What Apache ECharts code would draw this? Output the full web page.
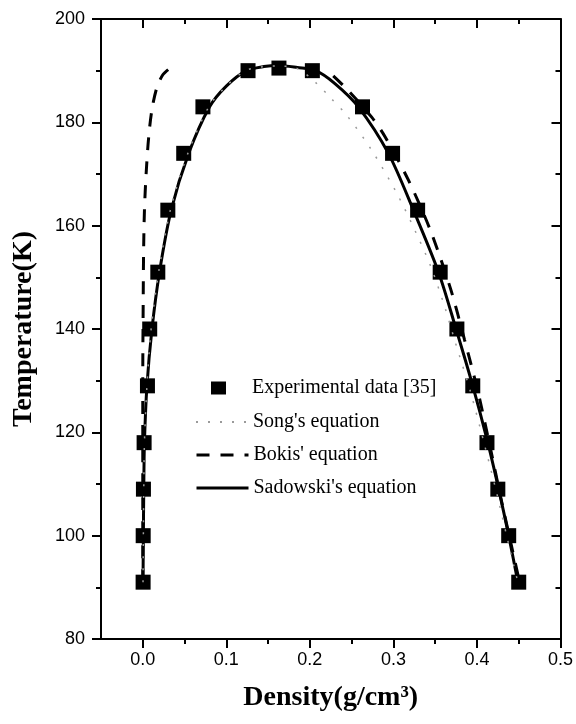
<!DOCTYPE html>
<html>
<head>
<meta charset="utf-8">
<script src="https://cdn.jsdelivr.net/npm/echarts@6/dist/echarts.min.js"></script>
<style>
  html, body { margin: 0; padding: 0; background: #fff; }
  #chart { width: 576px; height: 724px; }
</style>
</head>
<body>
<div id="chart"></div>
<script>
// Tick positions on the density axis
const xMajorTicks = [0, 0.1, 0.2, 0.3, 0.4, 0.5];
const xMinorTicks = [0.05, 0.15, 0.25, 0.35, 0.45];

// Measured coexistence points (vapour branch, critical region, liquid branch)
const expDensity = [0.0004, 0.0005, 0.0008, 0.0016, 0.0056, 0.0083, 0.018, 0.030, 0.049, 0.072, 0.126,
                    0.163,
                    0.203, 0.263, 0.299, 0.329, 0.356, 0.376, 0.395, 0.412, 0.425, 0.438, 0.450];
const expTemp    = [91, 100, 109, 118, 129, 140, 151, 163, 174, 183, 190,
                    190.5,
                    190, 183, 174, 163, 151, 140, 129, 118, 109, 100, 91];

// Sadowski's equation
const sadDensity = [0.0003, 0.0007, 0.0012, 0.002, 0.005, 0.011, 0.020, 0.034, 0.055, 0.080, 0.100, 0.124, 0.145, 0.163,
                    0.185, 0.207, 0.230, 0.258, 0.294, 0.324, 0.354, 0.375, 0.395, 0.413, 0.426, 0.438, 0.449];
const sadTemp    = [91, 100, 109, 118, 129, 140, 151, 163, 174, 183, 187, 190, 190.8, 191,
                    190.6, 190, 187.5, 183, 174, 163, 151, 140, 129, 118, 109, 100, 91];

// Song's equation
const songDensity = [0.0003, 0.0007, 0.0012, 0.002, 0.005, 0.010, 0.019, 0.033, 0.054, 0.079, 0.100, 0.123, 0.145, 0.163,
                     0.185, 0.205, 0.225, 0.244, 0.274, 0.304, 0.326, 0.345, 0.362, 0.373, 0.392, 0.410, 0.424, 0.437, 0.449];
const songTemp    = [91, 100, 109, 118, 129, 140, 151, 163, 174, 183, 187, 190, 190.8, 190.9,
                     190.4, 188, 184.7, 181.4, 174.6, 166.3, 159, 152, 144, 138, 128, 117, 108, 99, 91];

// Bokis' equation: vapour branch and liquid branch
const bokisVapDensity = [0.0, 0.0, 0.0, 0.0005, 0.001, 0.002, 0.004, 0.007, 0.011, 0.017, 0.024, 0.031];
const bokisVapTemp    = [91, 110, 130, 145, 155, 163, 170, 177, 182.5, 186.8, 189.2, 190.3];
const bokisLiqDensity = [0.228, 0.245, 0.274, 0.290, 0.318, 0.344, 0.368, 0.385, 0.401, 0.416, 0.429, 0.440, 0.451];
const bokisLiqTemp    = [189, 186.3, 181, 177.2, 168.8, 159.2, 148, 138, 128, 117, 107, 99, 91];

const zip = (xs, ys) => xs.map((x, i) => [x, ys[i]]);

const serifFont = '"Liberation Serif", "Times New Roman", serif';
const sansFont = '"Liberation Sans", Arial, sans-serif';
const black = '#000';

function xAxisDef(position, ticks, len, inside, withLine, withLabels) {
  return {
    type: 'value', min: -0.05, max: 0.5, position: position,
    axisLine: { show: withLine, onZero: false, lineStyle: { color: black, width: 2 } },
    axisTick: { show: true, inside: inside, length: len, customValues: ticks,
                lineStyle: { color: black, width: 2 } },
    axisLabel: withLabels ? {
      customValues: ticks, formatter: v => v.toFixed(1),
      fontFamily: sansFont, fontSize: 18, color: black, margin: 12
    } : { show: false },
    splitLine: { show: false }
  };
}

const bottomAxis = xAxisDef('bottom', xMajorTicks, 9, false, true, true);
bottomAxis.name = 'Density(g/cm³)';
bottomAxis.nameLocation = 'middle';
bottomAxis.nameGap = 45;
bottomAxis.nameTextStyle = { fontFamily: serifFont, fontWeight: 'bold', fontSize: 28, color: black };

const legendText = { fontFamily: serifFont, fontSize: 20, color: black };
const hiddenSymbol = { color: 'transparent', borderWidth: 0, opacity: 0 };

const option = {
  backgroundColor: '#fff',
  animation: false,
  grid: { left: 101, right: 13, top: 19, bottom: 85 },
  xAxis: [
    bottomAxis,
    xAxisDef('bottom', xMinorTicks, 5, false, false, false),
    xAxisDef('top', xMajorTicks, 9, true, true, false),
    xAxisDef('top', xMinorTicks, 5, true, false, false)
  ],
  yAxis: [
    {
      type: 'value', min: 80, max: 200, interval: 20, position: 'left',
      axisLine: { show: true, onZero: false, lineStyle: { color: black, width: 2 } },
      axisTick: { show: true, length: 9, lineStyle: { color: black, width: 2 } },
      minorTick: { show: true, splitNumber: 2, length: 5, lineStyle: { color: black, width: 2 } },
      axisLabel: { fontFamily: sansFont, fontSize: 18, color: black, margin: 16 },
      splitLine: { show: false },
      name: 'Temperature(K)', nameLocation: 'middle', nameRotate: 90, nameGap: 63,
      nameTextStyle: { fontFamily: serifFont, fontWeight: 'bold', fontSize: 28, color: black }
    },
    {
      type: 'value', min: 80, max: 200, interval: 20, position: 'right',
      axisLine: { show: true, onZero: false, lineStyle: { color: black, width: 2 } },
      axisTick: { show: true, inside: true, length: 9, lineStyle: { color: black, width: 2 } },
      minorTick: { show: true, splitNumber: 2, length: 5, lineStyle: { color: black, width: 2 } },
      axisLabel: { show: false },
      splitLine: { show: false }
    }
  ],
  legend: [
    {
      data: ['Experimental data [35]'],
      left: 211, top: 378, padding: 0,
      itemWidth: 15, itemHeight: 13, icon: 'rect',
      itemStyle: { color: black, opacity: 1 },
      textStyle: Object.assign({ padding: [0, 0, 0, 21] }, legendText)
    },
    {
      data: ["Song's equation"],
      left: 195, top: 412, padding: 0,
      itemWidth: 52, itemHeight: 14,
      itemStyle: hiddenSymbol,
      textStyle: legendText
    },
    {
      data: ["Bokis' equation", "Sadowski's equation"],
      orient: 'vertical', left: 195, top: 445, padding: 0,
      itemWidth: 52, itemHeight: 14, itemGap: 13,
      itemStyle: hiddenSymbol,
      lineStyle: { width: 3 },
      textStyle: legendText
    }
  ],
  series: [
    {
      name: 'Experimental data [35]', type: 'scatter',
      symbol: 'rect', symbolSize: 15,
      itemStyle: { color: black, opacity: 1 },
      data: zip(expDensity, expTemp), z: 2
    },
    {
      name: "Song's equation", type: 'line', smooth: 0.3, symbol: 'none',
      itemStyle: { color: '#9a9a9a' },
      lineStyle: { color: '#9a9a9a', width: 1.5, type: [2, 10] },
      data: zip(songDensity, songTemp), z: 5
    },
    {
      name: "Bokis' equation", type: 'line', smooth: 0.3, symbol: 'none',
      itemStyle: { color: black },
      lineStyle: { color: black, width: 3, type: [13, 11] },
      data: zip(bokisVapDensity, bokisVapTemp), z: 4
    },
    {
      name: "Bokis' equation", type: 'line', smooth: 0.3, symbol: 'none',
      itemStyle: { color: black },
      lineStyle: { color: black, width: 3, type: [13, 11] },
      data: zip(bokisLiqDensity, bokisLiqTemp), z: 4
    },
    {
      name: "Sadowski's equation", type: 'line', smooth: 0.3, symbol: 'none',
      itemStyle: { color: black },
      lineStyle: { color: black, width: 3 },
      data: zip(sadDensity, sadTemp), z: 3
    }
  ]
};

const chart = echarts.init(document.getElementById('chart'), null, { renderer: 'canvas' });
chart.setOption(option);
</script>
</body>
</html>
